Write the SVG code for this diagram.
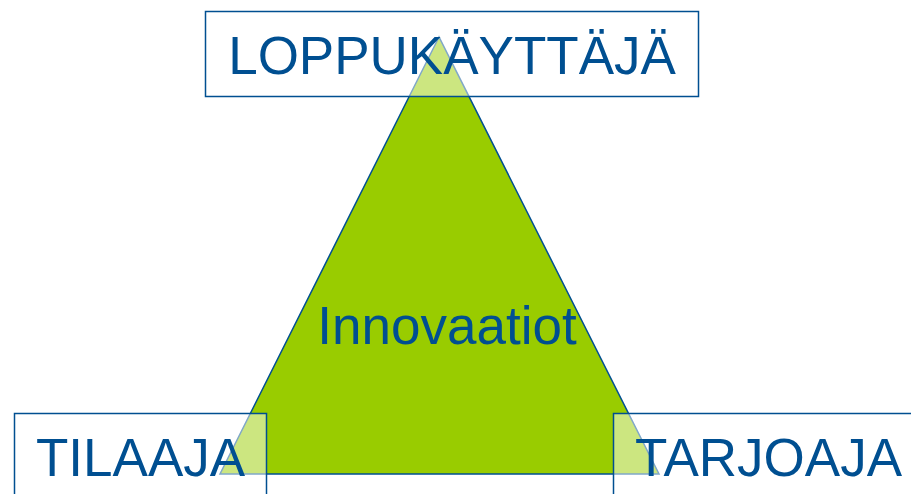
<svg xmlns="http://www.w3.org/2000/svg" width="911" height="494" viewBox="0 0 911 494">
<style>
.box{fill:#ffffff;fill-opacity:0.5;stroke:#004f91;stroke-width:1.5}
.lbl{font-family:"Liberation Sans",Arial,sans-serif;font-size:53px;fill:#004f91}
</style>
<rect width="911" height="494" fill="#ffffff"/>
<g id="innovaatiot">
<polygon points="439,37 220,474 659,474" fill="#99cc00" stroke="#004f91" stroke-width="1.5"/>
<text class="lbl" x="447" y="344" text-anchor="middle" font-size="52">Innovaatiot</text>
</g>
<g id="loppukayttaja">
<rect class="box" x="205.5" y="11.5" width="493" height="85"/>
<text class="lbl" x="452" y="74" text-anchor="middle">LOPPUKÄYTTÄJÄ</text>
</g>
<g id="tilaaja">
<rect class="box" x="14.5" y="413.5" width="252" height="100"/>
<text class="lbl" x="36" y="476">TILAAJA</text>
</g>
<g id="tarjoaja">
<rect class="box" x="613.5" y="413.5" width="320" height="100"/>
<text class="lbl" x="635" y="476">TARJOAJA</text>
</g>
<g id="connectors"/>
</svg>
